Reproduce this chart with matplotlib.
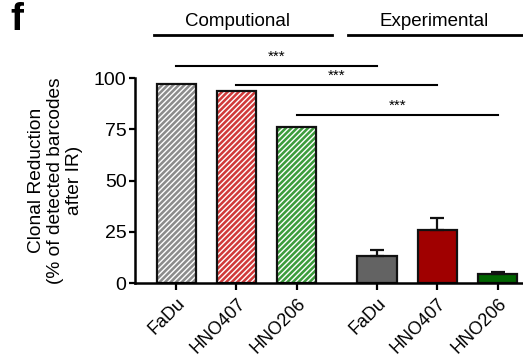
import matplotlib
matplotlib.use("Agg")
import matplotlib.pyplot as plt

plt.rcParams['font.family'] = ['Liberation Sans', 'DejaVu Sans']
plt.rcParams['hatch.linewidth'] = 1.0

labels = ["FaDu", "HNO407", "HNO206", "FaDu", "HNO407", "HNO206"]
positions = [0, 1, 2, 3.33, 4.33, 5.33]
values = [97, 93.5, 76, 13, 26, 4.3]
errors = [0, 0, 0, 3, 5.5, 0.9]
colors = ["#8c8c8c", "#d03a3a", "#3c9c3c", "#636363", "#a00000", "#006400"]
hatched = [True, True, True, False, False, False]

# significance comparisons: (from index, to index, height)
sig = [(0, 3, 106), (1, 4, 96.5), (2, 5, 82)]

fig = plt.figure(figsize=(5.23, 3.64), dpi=100)
ax = fig.add_axes([0.258, 0.2225, 0.742, 0.563])

for x, v, c, h in zip(positions, values, colors, hatched):
    if h:
        ax.bar(x, v, width=0.65, color=c, edgecolor="white", hatch="//////", linewidth=0)
        ax.bar(x, v, width=0.65, fill=False, edgecolor="#111111", linewidth=1.6)
    else:
        ax.bar(x, v, width=0.65, color=c, edgecolor="#111111", linewidth=1.6)

for x, v, e in zip(positions, values, errors):
    if e > 0:
        ax.errorbar(x, v, yerr=[[0], [e]], fmt="none", ecolor="#111111",
                    elinewidth=1.6, capsize=5, capthick=1.6)

for i, j, y in sig:
    ax.plot([positions[i], positions[j]], [y, y], color="black", lw=1.5, clip_on=False)
    ax.text((positions[i] + positions[j]) / 2, y + 1.2, "***", ha="center", va="bottom",
            fontsize=11)

ax.set_xlim(-0.683, 5.75)
ax.set_ylim(0, 100)
ax.set_yticks([0, 25, 50, 75, 100])
ax.set_xticks(positions)
ax.set_xticklabels(labels, rotation=45, ha="right", rotation_mode="anchor", fontsize=13)
ax.tick_params(axis="y", labelsize=14, width=1.6, length=4, pad=2)
ax.tick_params(axis="x", width=1.6, length=5)
for s in ["top", "right"]:
    ax.spines[s].set_visible(False)
for s in ["left", "bottom"]:
    ax.spines[s].set_linewidth(1.8)

ax.set_ylabel("Clonal Reduction\n(% of detected barcodes\nafter IR)", fontsize=13.8,
              linespacing=1.15, labelpad=8)

# group headers
fig.add_artist(plt.Line2D([154 / 523, 332 / 523], [1 - 35 / 364] * 2, color="black", lw=2))
fig.add_artist(plt.Line2D([348 / 523, 1.0], [1 - 35 / 364] * 2, color="black", lw=2))
fig.text(238 / 523, 1 - 21 / 364, "Computional", ha="center", va="center", fontsize=13.5)
fig.text(434 / 523, 1 - 21 / 364, "Experimental", ha="center", va="center", fontsize=13.5)
fig.text(10 / 523, 1 - 20 / 364, "f", ha="left", va="center", fontsize=28, fontweight="bold")

fig.savefig("out.png", dpi=100)
